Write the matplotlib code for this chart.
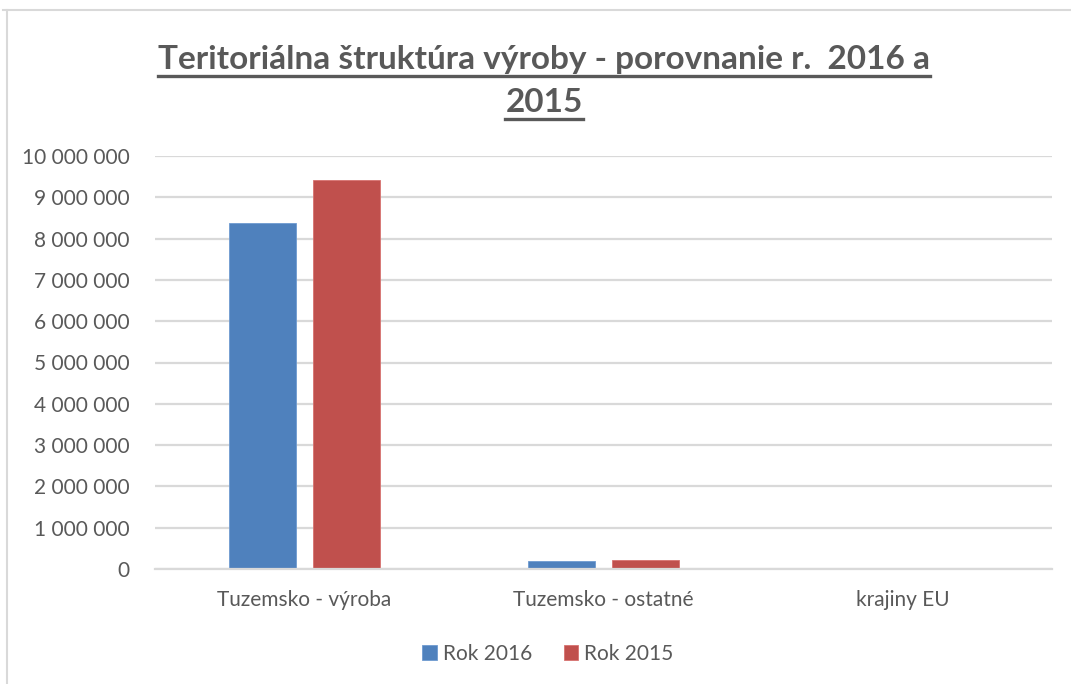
import numpy as np
import matplotlib.pyplot as plt
from matplotlib.lines import Line2D

# data
categories = ['Tuzemsko - výroba', 'Tuzemsko - ostatné', 'krajiny EU']
rok_2016 = [8370000, 190000, 0]
rok_2015 = [9420000, 225000, 0]
series_names = ['Rok 2016', 'Rok 2015']
y_ticks = [0, 1000000, 2000000, 3000000, 4000000, 5000000,
           6000000, 7000000, 8000000, 9000000, 10000000]

plt.rcParams['font.family'] = ['Lato', 'DejaVu Sans']
text_col = '#595959'
blue = '#4f81bd'
red = '#c0504d'

fig = plt.figure(figsize=(10.71, 6.84), dpi=100)
ax = fig.add_axes([155 / 1071, 1 - 569 / 684, 897 / 1071, 413 / 684])

x = np.arange(len(categories))
w = 0.224
off = 0.14
ax.bar(x - off, rok_2016, w, color=blue, edgecolor='#6f9bd1', linewidth=0.6, label=series_names[0])
ax.bar(x + off, rok_2015, w, color=red, edgecolor='#d77270', linewidth=0.6, label=series_names[1])

ax.set_xlim(-0.5, len(categories) - 0.5)
ax.set_ylim(0, 10000000)
ax.set_yticks(y_ticks)
ax.set_yticklabels([f'{v:,}'.replace(',', ' ') for v in y_ticks])
ax.set_xticks(x)
ax.set_xticklabels(categories)
ax.tick_params(axis='both', length=0, labelsize=15, colors=text_col)
ax.tick_params(axis='y', pad=18)
ax.tick_params(axis='x', pad=15)
ax.yaxis.grid(True, color='#d9d9d9', linewidth=1.6)
ax.set_axisbelow(True)
for s in ['top', 'right', 'left']:
    ax.spines[s].set_visible(False)
ax.spines['bottom'].set_color('#d9d9d9')
ax.spines['bottom'].set_linewidth(1.6)

# outer frame (only top and left visible in the crop)
fig.add_artist(Line2D([3 / 1071, 1], [1 - 10 / 684] * 2, color='#d9d9d9', lw=1.5))
fig.add_artist(Line2D([7 / 1071] * 2, [0, 1 - 10 / 684], color='#d9d9d9', lw=1.5))

# title with underline
t1 = fig.text(544 / 1071, 1 - 69 / 684, 'Teritoriálna štruktúra výroby - porovnanie r.  2016 a',
              ha='center', va='baseline', fontsize=24, fontweight='bold', color=text_col)
t2 = fig.text(544 / 1071, 1 - 112 / 684, '2015',
              ha='center', va='baseline', fontsize=24, fontweight='bold', color=text_col)
fig.canvas.draw()
r = fig.canvas.get_renderer()
for t, yu in [(t1, 76), (t2, 119)]:
    bb = t.get_window_extent(r)
    fig.add_artist(Line2D([bb.x0 / 1071, bb.x1 / 1071], [1 - yu / 684] * 2,
                          color=text_col, lw=2.4))

fig.legend(loc='center', bbox_to_anchor=(548 / 1071, 1 - 654 / 684), ncol=2, frameon=False,
           fontsize=15, labelcolor=text_col, handlelength=0.7, handleheight=0.7,
           handletextpad=0.3, columnspacing=1.5)

fig.savefig('out.png', dpi=100)
